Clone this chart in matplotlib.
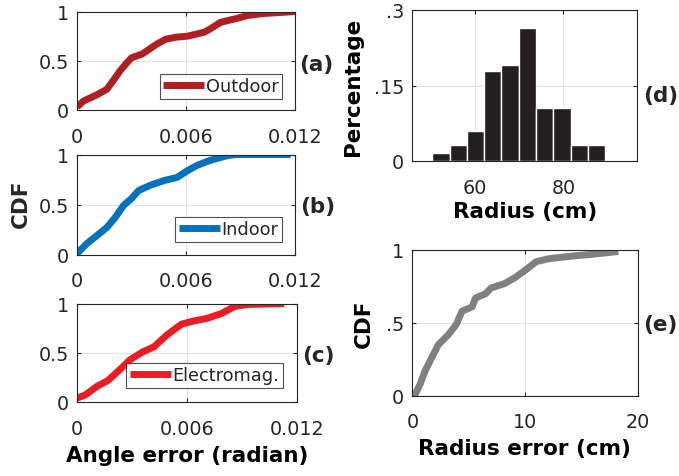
import matplotlib
matplotlib.use("Agg")
import matplotlib.pyplot as plt

# ---------------- data ----------------
outdoor_err = [0, 0.00035, 0.0011, 0.00164, 0.0020, 0.00238, 0.00275, 0.0030, 0.0036, 0.0040,
               0.0044, 0.0049, 0.0055, 0.0061, 0.0070, 0.0073, 0.0079, 0.0088, 0.0094, 0.0103,
               0.0112, 0.0120]
outdoor_cdf = [0.03, 0.09, 0.155, 0.21, 0.30, 0.40, 0.48, 0.53, 0.57, 0.62,
               0.67, 0.72, 0.74, 0.75, 0.79, 0.82, 0.89, 0.93, 0.96, 0.98,
               0.99, 1.0]

indoor_err = [0, 0.00053, 0.0011, 0.00164, 0.0021, 0.00256, 0.0030, 0.0034, 0.0040, 0.0048,
              0.0055, 0.0061, 0.0066, 0.0073, 0.0083, 0.0088, 0.01176]
indoor_cdf = [0.01, 0.107, 0.19, 0.27, 0.37, 0.49, 0.56, 0.64, 0.69, 0.74,
              0.77, 0.84, 0.89, 0.94, 0.99, 1.0, 1.0]

em_err = [0, 0.00044, 0.0011, 0.0017, 0.0024, 0.0029, 0.0036, 0.0042, 0.0049, 0.0057,
          0.0063, 0.0071, 0.0079, 0.0086, 0.0093, 0.0113]
em_cdf = [0.04, 0.07, 0.16, 0.22, 0.34, 0.43, 0.51, 0.56, 0.68, 0.79,
          0.82, 0.85, 0.90, 0.97, 0.99, 1.0]

radius_bins = [52.4, 56.3, 60.2, 64.1, 68.0, 71.9, 75.8, 79.7, 83.6, 87.5]
radius_pct = [0.0165, 0.031, 0.060, 0.178, 0.191, 0.264, 0.105, 0.105, 0.031, 0.031]
bin_width = 3.9

rerr = [0, 0.24, 0.68, 1.12, 1.57, 2.3, 3.2, 3.9, 4.4, 5.3, 5.6, 6.5, 7.0, 8.2, 9.1,
        10.0, 11.0, 12.1, 14.4, 15.9, 18.3]
rerr_cdf = [0.0, 0.01, 0.08, 0.17, 0.24, 0.35, 0.42, 0.49, 0.58, 0.61, 0.67, 0.70, 0.74,
            0.77, 0.81, 0.86, 0.92, 0.94, 0.96, 0.97, 0.99]

angle_ticks = [0, 0.006, 0.012]
angle_ticklabels = ["0", "0.006", "0.012"]
cdf_ticks = [0, 0.5, 1]

# ---------------- style ----------------
TXT = "#262626"
plt.rcParams["font.family"] = ["DejaVu Sans"]
plt.rcParams["text.color"] = TXT
TICK_FS = 13.8
LAB_FS = 15.5
LEG_FS = 12.8
LW = 5.0

W, H = 679, 477
fig = plt.figure(figsize=(W / 100, H / 100), dpi=100)


def px_axes(l, t, r, b):
    return fig.add_axes([l / W, 1 - b / H, (r - l) / W, (b - t) / H])


def style(ax):
    for s in ax.spines.values():
        s.set_color(TXT)
        s.set_linewidth(0.8)
    ax.tick_params(direction="in", length=3, width=0.8, colors=TXT,
                   labelsize=TICK_FS, top=True, right=True)
    ax.tick_params(axis="x", pad=12)
    ax.tick_params(axis="y", pad=6)
    ax.grid(True, color="#E3E3E3", linewidth=0.8)
    ax.set_axisbelow(True)


def cdf_panel(ax, x, y, color, label, anchor):
    ax.plot(x, y, color=color, lw=LW, solid_capstyle="butt", label=label)
    ax.set_xlim(0, 0.012)
    ax.set_ylim(0, 1)
    ax.set_xticks(angle_ticks)
    ax.set_xticklabels(angle_ticklabels)
    ax.set_yticks(cdf_ticks)
    ax.set_yticklabels(["0", "0.5", "1"])
    style(ax)
    leg = ax.legend(loc="lower right", bbox_to_anchor=anchor, borderaxespad=0,
                    fontsize=LEG_FS, frameon=True, fancybox=False, handlelength=2.3,
                    handletextpad=0.1, borderpad=0.2)
    leg.get_frame().set_edgecolor(TXT)
    leg.get_frame().set_linewidth(0.8)


axa = px_axes(77, 12.5, 295, 111)
cdf_panel(axa, outdoor_err, outdoor_cdf, "#B01E23", "Outdoor", (1 - 13 / 218, 11 / 98.5))
axb = px_axes(77, 155.5, 295, 255.5)
cdf_panel(axb, indoor_err, indoor_cdf, "#0072BD", "Indoor", (1 - 13 / 218, 12.5 / 100))
axc = px_axes(77, 304.5, 297, 403)
cdf_panel(axc, em_err, em_cdf, "#ED1C24", "Electromag.", (1 - 14 / 220, 14 / 98.5))
axc.set_xlabel("Angle error (radian)", fontsize=LAB_FS, fontweight="bold", labelpad=5)

fig.text(21 / W, 1 - 204 / H, "CDF", rotation=90, ha="center", va="center",
         fontsize=LAB_FS, fontweight="bold")

# histogram
axd = px_axes(412.5, 11, 637, 162)
axd.bar(radius_bins, radius_pct, width=bin_width, color="#231F20", edgecolor="white",
        linewidth=1.0)
axd.set_xlim(46, 96.6)
axd.set_ylim(0, 0.3)
axd.set_xticks([60, 80])
axd.set_yticks([0, 0.15, 0.3])
axd.set_yticklabels(["0", ".15", ".3"])
style(axd)
axd.set_xlabel("Radius (cm)", fontsize=LAB_FS, fontweight="bold", labelpad=3)
axd.set_ylabel("Percentage", fontsize=LAB_FS, fontweight="bold", labelpad=8)

# radius error CDF
axe = px_axes(412.5, 251, 637.5, 396.7)
axe.plot(rerr, rerr_cdf, color="#808080", lw=LW, solid_capstyle="butt")
axe.set_xlim(0, 20)
axe.set_ylim(0, 1)
axe.set_xticks([0, 10, 20])
axe.set_yticks([0, 0.5, 1])
axe.set_yticklabels(["0", ".5", "1"])
style(axe)
axe.set_xlabel("Radius error (cm)", fontsize=LAB_FS, fontweight="bold", labelpad=5)
axe.set_ylabel("CDF", fontsize=LAB_FS, fontweight="bold", labelpad=9)

# panel labels
for txt, xp, yp in [("(a)", 299, 65), ("(b)", 300, 207), ("(c)", 302, 356),
                    ("(d)", 643, 96), ("(e)", 643, 325)]:
    fig.text(xp / W, 1 - yp / H, txt, ha="left", va="center", fontsize=LAB_FS,
             fontweight="bold")

fig.savefig("out.png", dpi=100, facecolor="white")
